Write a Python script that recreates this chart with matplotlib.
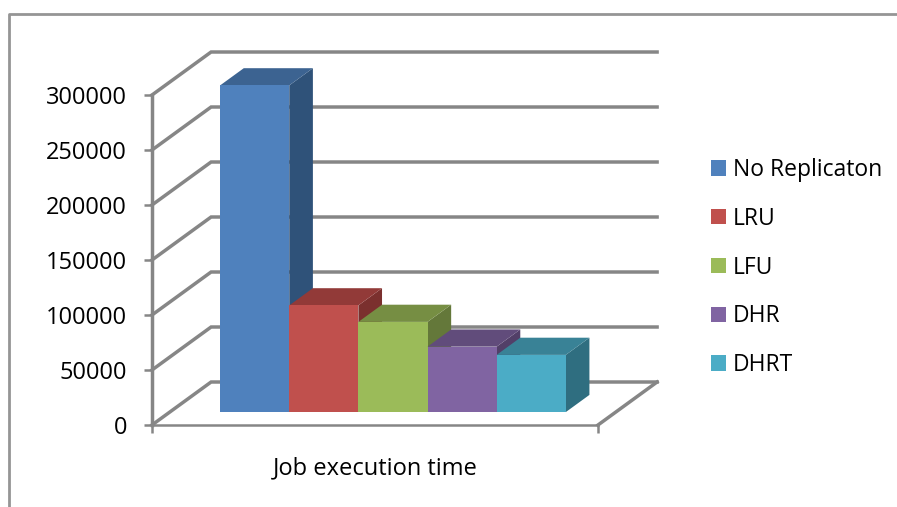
import matplotlib
matplotlib.use("Agg")
import matplotlib.pyplot as plt
from matplotlib.lines import Line2D
from matplotlib.patches import Patch, Polygon

plt.rcParams["font.family"] = ["Open Sans", "DejaVu Sans"]

# data
names = ["No Replicaton", "LRU", "LFU", "DHR", "DHRT"]
values = [297000, 97000, 82000, 59500, 52000]
y_ticks = [0, 50000, 100000, 150000, 200000, 250000, 300000]
category = "Job execution time"

# colours per series: front, top, side
front_cols = ["#4F81BD", "#C0504D", "#9BBB59", "#8064A2", "#4BACC6"]
top_cols = ["#3C6391", "#923A38", "#768E43", "#614C7B", "#398296"]
side_cols = ["#2F5279", "#7B302E", "#64783A", "#523F68", "#2F6E80"]
grid_col = "#868686"

# oblique projection: one full depth moves this far in data units
depth_x = 0.1325
depth_y = 39090
bar_w = 0.155
bar_start = 0.113
d_front = 0.3
d_back = 0.7


def proj(x, y, d):
    return (x + d * depth_x, y + d * depth_y)


fig = plt.figure(figsize=(8.97, 5.07), dpi=100)
ax = fig.add_axes([152 / 897, (507 - 425) / 507, 446 / 897, 330 / 507])
ax.set_xlim(0, 1)
ax.set_ylim(0, 300000)
ax.patch.set_visible(False)

# outer frame of the chart
fig.add_artist(Line2D([8.5 / 897, 8.5 / 897, 1], [0, 1 - 14 / 507, 1 - 14 / 507],
                      transform=fig.transFigure, color="#959595", lw=2))

# walls and floor
for v in y_ticks:
    ax.plot(*zip(proj(0, v, 0), proj(0, v, 1), proj(1, v, 1)),
            color=grid_col, lw=2.5, clip_on=False, zorder=1, solid_joinstyle="miter")
ax.plot(*zip(proj(1, 0, 1), proj(1, 0, 0)), color=grid_col, lw=2.5, clip_on=False, zorder=1)

# bars
for i, v in enumerate(values):
    x0 = bar_start + i * bar_w
    x1 = x0 + bar_w
    z = 3 + i
    top = v
    ax.add_patch(Polygon([proj(x1, 0, d_front), proj(x1, 0, d_back),
                          proj(x1, top, d_back), proj(x1, top, d_front)],
                         fc=side_cols[i], ec="none", clip_on=False, zorder=z))
    ax.add_patch(Polygon([proj(x0, top, d_front), proj(x1, top, d_front),
                          proj(x1, top, d_back), proj(x0, top, d_back)],
                         fc=top_cols[i], ec="none", clip_on=False, zorder=z))
    fx, fy = proj(x0, 0, d_front)
    ax.bar(fx, v, width=bar_w, bottom=fy, align="edge", color=front_cols[i],
           clip_on=False, zorder=z)

# axes
for s in ["top", "right"]:
    ax.spines[s].set_visible(False)
for s in ["left", "bottom"]:
    ax.spines[s].set_color(grid_col)
ax.spines["left"].set_linewidth(2.5)
ax.spines["bottom"].set_linewidth(1.8)
ax.set_yticks(y_ticks)
ax.set_xticks([0, 1])
ax.set_xticklabels(["", ""])
ax.tick_params(axis="y", length=6, width=1.8, color=grid_col, pad=12, labelsize=17, labelcolor="black")
ax.tick_params(axis="x", length=6, width=1.8, color=grid_col)
ax.set_xlabel(category, fontsize=17, labelpad=13, color="black")

# legend
handles = [Patch(fc=c, ec="none") for c in front_cols]
fig.legend(handles, names, loc="upper left", bbox_to_anchor=(711 / 897, 1 - 158 / 507),
           frameon=False, fontsize=16.5, handlelength=0.65, handleheight=0.65,
           handletextpad=0.3, labelspacing=1.08, borderpad=0, borderaxespad=0)

fig.savefig("out.png", dpi=100)
